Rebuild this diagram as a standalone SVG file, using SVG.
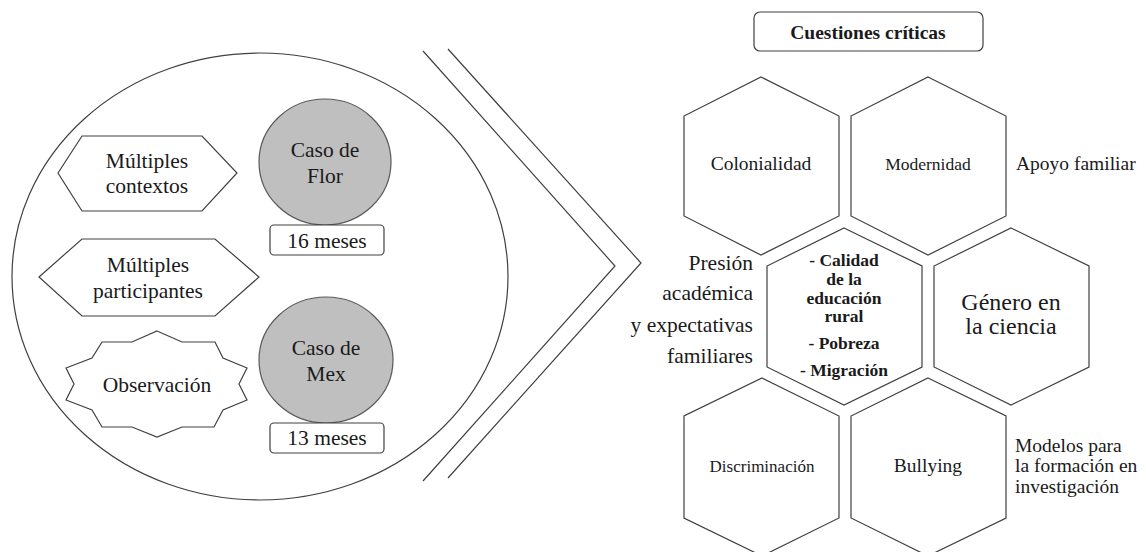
<svg xmlns="http://www.w3.org/2000/svg" width="1146" height="552" viewBox="0 0 1146 552">
  <style>
    .ln { fill: none; stroke: #404040; stroke-width: 1.2; }
    .shape { fill: #ffffff; stroke: #404040; stroke-width: 1.2; }
    .case { fill: #bfbfbf; stroke: #595959; stroke-width: 1.2; }
    .box { fill: #ffffff; stroke: #404040; stroke-width: 1.2; }
    text { font-family: "Liberation Serif", "Times New Roman", serif; fill: #1a1a1a; }
    .c { text-anchor: middle; }
    .r { text-anchor: end; }
    .b { font-weight: bold; }
  </style>

  <rect width="1146" height="552" fill="#ffffff"/>

  <!-- Left cluster: methodology -->
  <g id="frame">
    <ellipse class="ln" cx="260" cy="276.5" rx="248" ry="223.5"/>
  </g>

  <g id="contextos">
    <polygon class="shape" points="58,173 82,136 202,136 237,173 202,211 82,211"/>
    <text class="c" x="147" y="168" font-size="21.5">Múltiples</text>
    <text class="c" x="147" y="193" font-size="21.5">contextos</text>
  </g>

  <g id="participantes">
    <polygon class="shape" points="39,277 82,239 215,239 259,277 215,316 82,316"/>
    <text class="c" x="148" y="272" font-size="21.5">Múltiples</text>
    <text class="c" x="148" y="298" font-size="21.5">participantes</text>
  </g>

  <g id="observacion">
    <polygon class="shape" points="157,331 182,342 215,342 223,358 247,368 239,384 247,400 223,410 214,427 182,427 157,437 132,427 102,427 92,410 66,400 74,384 66,368 92,358 102,342 132,342"/>
    <text class="c" x="157" y="392" font-size="21.5">Observación</text>
  </g>

  <g id="caso-flor">
    <ellipse class="case" cx="325" cy="162" rx="66" ry="63"/>
    <text class="c" x="325" y="157" font-size="21.5">Caso de</text>
    <text class="c" x="325" y="183" font-size="21.5">Flor</text>
  </g>

  <g id="duracion-flor">
    <rect class="box" x="270" y="225" width="114" height="30" rx="4"/>
    <text class="c" x="327" y="248" font-size="21.5">16 meses</text>
  </g>

  <g id="caso-mex">
    <ellipse class="case" cx="326" cy="360" rx="67" ry="63"/>
    <text class="c" x="326" y="355" font-size="21.5">Caso de</text>
    <text class="c" x="326" y="381" font-size="21.5">Mex</text>
  </g>

  <g id="duracion-mex">
    <rect class="box" x="270" y="423" width="114" height="30" rx="4"/>
    <text class="c" x="327" y="445" font-size="21.5">13 meses</text>
  </g>

  <!-- Double chevron leading to the critical issues -->
  <g id="connectors">
    <polyline class="ln" points="423,51 615,266 423,481"/>
    <polyline class="ln" points="448,49 641,263 448,478"/>
  </g>

  <!-- Right cluster: critical issues -->
  <g id="titulo">
    <rect class="box" x="754" y="12" width="229" height="39" rx="6"/>
    <text class="c b" x="868" y="39" font-size="19.5">Cuestiones críticas</text>
  </g>

  <g id="colonialidad">
    <polygon class="shape" points="761,77 839,116 839,216 761,255 684,216 684,116"/>
    <text class="c" x="761" y="170" font-size="19.5">Colonialidad</text>
  </g>

  <g id="modernidad">
    <polygon class="shape" points="928,77 1006,116 1006,216 928,255 851,216 851,116"/>
    <text class="c" x="928" y="170" font-size="17.5">Modernidad</text>
  </g>

  <g id="apoyo">
    <text x="1016" y="170" font-size="19.5">Apoyo familiar</text>
  </g>

  <g id="presion">
    <text class="r" x="753" y="270" font-size="21.5">Presión</text>
    <text class="r" x="753" y="300" font-size="21.5">académica</text>
    <text class="r" x="753" y="332" font-size="21.5">y expectativas</text>
    <text class="r" x="753" y="363" font-size="21.5">familiares</text>
  </g>

  <g id="nucleo">
    <polygon class="shape" points="844,228 922,266 922,367 844,405 767,367 767,266"/>
    <text class="c b" x="844" y="266" font-size="17.5">- Calidad</text>
    <text class="c b" x="844" y="285" font-size="17.5">de la</text>
    <text class="c b" x="844" y="304" font-size="17.5">educación</text>
    <text class="c b" x="844" y="322" font-size="17.5">rural</text>
    <text class="c b" x="844" y="349" font-size="17.5">- Pobreza</text>
    <text class="c b" x="844" y="376" font-size="17.5">- Migración</text>
  </g>

  <g id="genero">
    <polygon class="shape" points="1011,228 1089,266 1089,367 1011,405 934,367 934,266"/>
    <text class="c" x="1011" y="310" font-size="24">Género en</text>
    <text class="c" x="1011" y="334" font-size="24">la ciencia</text>
  </g>

  <g id="discriminacion">
    <polygon class="shape" points="762,378 839,416 839,518 762,556 684,518 684,416"/>
    <text class="c" x="762" y="472" font-size="17">Discriminación</text>
  </g>

  <g id="bullying">
    <polygon class="shape" points="928,378 1006,416 1006,518 928,556 851,518 851,416"/>
    <text class="c" x="928" y="472" font-size="19.5">Bullying</text>
  </g>

  <g id="modelos">
    <text x="1015" y="452" font-size="19.5">Modelos para</text>
    <text x="1015" y="472" font-size="19.5">la formación en</text>
    <text x="1015" y="493" font-size="19.5">investigación</text>
  </g>
</svg>
